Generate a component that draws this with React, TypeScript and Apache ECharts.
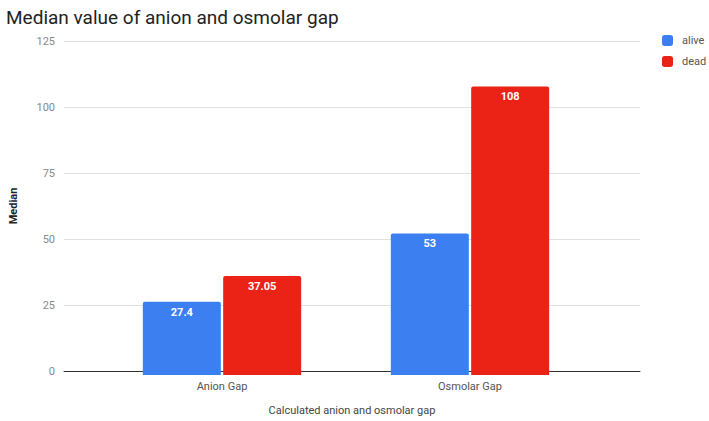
import React, { useEffect, useRef } from "react";
import * as echarts from "echarts";

const categories = ["Anion Gap", "Osmolar Gap"];
const alive = [27.4, 53];
const dead = [37.05, 108];
const aliveLabels = ["27.4", "53"];
const deadLabels = ["37.05", "108"];

export default function App() {
  const ref = useRef<HTMLDivElement>(null);
  useEffect(() => {
    const chart = echarts.init(ref.current!, undefined, { renderer: "svg" });
    const font = "Roboto, 'Noto Sans', sans-serif";
    const barLabel = (labels: string[]) => ({
      show: true,
      position: "insideTop",
      distance: 5,
      color: "#fff",
      fontSize: 11,
      fontWeight: "bold",
      formatter: (p: any) => labels[p.dataIndex],
    });
    chart.setOption({
      animation: false,
      textStyle: { fontFamily: font },
      title: {
        text: "Median value of anion and osmolar gap",
        left: 1,
        top: 3,
        textStyle: { fontSize: 19, fontWeight: "normal", color: "#222", fontFamily: font },
      },
      legend: {
        orient: "vertical",
        left: 657,
        top: 30,
        itemWidth: 11,
        itemHeight: 11,
        itemGap: 10,
        icon: "roundRect",
        textStyle: { fontSize: 11, color: "#555", fontFamily: font, padding: [0, 0, 0, 4] },
        data: ["alive", "dead"],
      },
      grid: [
        { left: 57, right: 69, top: 41, bottom: 46 },
        { left: 98, right: 115, top: 41, bottom: 46 },
      ],
      xAxis: [
        {
          gridIndex: 0,
          type: "category",
          data: categories,
          axisLine: { show: true, lineStyle: { color: "#333", width: 1 } },
          axisTick: { show: false },
          axisLabel: { show: false },
          name: "Calculated anion and osmolar gap",
          nameLocation: "middle",
          nameGap: 34,
          nameTextStyle: { fontSize: 11, color: "#444", fontFamily: font },
        },
        {
          gridIndex: 1,
          type: "category",
          data: categories,
          axisLine: { show: false },
          axisTick: { show: false },
          axisLabel: { fontSize: 11, color: "#555", margin: 6, fontFamily: font },
        },
      ],
      yAxis: [
        {
          gridIndex: 0,
          type: "value",
          min: 0,
          max: 125,
          interval: 25,
          axisLine: { show: false },
          axisTick: { show: false },
          axisLabel: { fontSize: 11, color: "#888", margin: 9, fontFamily: font },
          splitLine: { lineStyle: { color: "#e0e0e0" } },
          name: "Median",
          nameLocation: "middle",
          nameGap: 45,
          nameRotate: 90,
          nameTextStyle: { fontSize: 11, color: "#222", fontWeight: "bold", fontFamily: font },
        },
        {
          gridIndex: 1,
          type: "value",
          min: 0,
          max: 125,
          interval: 25,
          show: false,
          splitLine: { show: false },
        },
      ],
      series: [
        {
          name: "alive",
          type: "bar",
          xAxisIndex: 1,
          yAxisIndex: 1,
          data: alive,
          barWidth: 78,
          barGap: "3%",
          itemStyle: { color: "#3c7ff0", borderRadius: [2, 2, 0, 0] },
          label: barLabel(aliveLabels),
        },
        {
          name: "dead",
          type: "bar",
          xAxisIndex: 1,
          yAxisIndex: 1,
          data: dead,
          barWidth: 78,
          barGap: "3%",
          itemStyle: { color: "#eb2216", borderRadius: [2, 2, 0, 0] },
          label: barLabel(deadLabels),
        },
      ],
    });
    return () => chart.dispose();
  }, []);
  return <div ref={ref} style={{ width: 709, height: 421, position: "fixed", left: 0, top: 0, background: "#fff" }} />;
}
